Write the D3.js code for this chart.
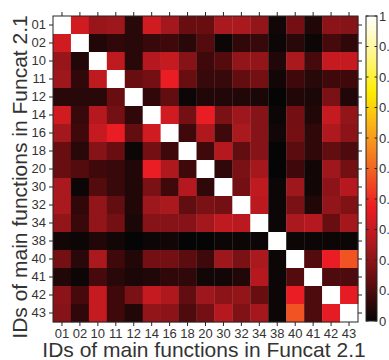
<!DOCTYPE html>
<html>
<head>
<meta charset="utf-8">
<script src="https://cdn.jsdelivr.net/npm/d3@7"></script>
<style>
  body { margin: 0; background: #fff; }
  svg { display: block; font-family: "Liberation Sans", Arial, Helvetica, sans-serif; }
</style>
</head>
<body>
<svg id="chart" width="389" height="360"></svg>
<script>
// function category IDs (rows and columns)
const ids = ["01", "02", "10", "11", "12", "14", "16", "18", "20", "30", "32", "34", "38", "40", "41", "42", "43"];

// similarity matrix (symmetric, 1 on the diagonal)
const matrix = [
  [1, .32, .22, .23, .05, .32, .24, .14, .14, .25, .25, .21, .02, .16, .04, .20, .19],
  [.32, 1, .04, .06, .05, .07, .08, .05, .11, .01, .06, .07, .01, .05, .01, .09, .06],
  [.22, .04, 1, .29, .05, .27, .30, .19, .08, .11, .21, .21, .04, .25, .09, .30, .30],
  [.23, .06, .29, 1, .14, .16, .37, .14, .07, .07, .13, .16, .02, .08, .05, .08, .08],
  [.05, .05, .05, .14, 1, .06, .13, .01, .04, .04, .04, .03, .00, .04, .03, .17, .04],
  [.32, .07, .27, .16, .06, 1, .32, .16, .37, .17, .23, .19, .01, .16, .04, .30, .21],
  [.24, .08, .30, .37, .13, .32, 1, .08, .26, .08, .25, .19, .02, .16, .06, .26, .20],
  [.14, .05, .19, .14, .01, .16, .08, 1, .08, .27, .13, .19, .00, .12, .06, .13, .10],
  [.14, .11, .08, .07, .04, .37, .26, .08, 1, .06, .17, .24, .00, .08, .02, .23, .16],
  [.25, .01, .11, .07, .04, .17, .08, .27, .06, 1, .16, .29, .01, .23, .02, .20, .27],
  [.25, .06, .21, .13, .04, .23, .25, .13, .17, .16, 1, .28, .01, .17, .04, .21, .18],
  [.21, .07, .21, .16, .03, .19, .19, .19, .24, .29, .28, 1, .01, .25, .27, .14, .24],
  [.02, .01, .04, .02, .00, .01, .02, .00, .00, .01, .01, .01, 1, .01, .01, .01, .01],
  [.16, .05, .25, .08, .04, .16, .16, .12, .08, .23, .17, .25, .01, 1, .11, .37, .47],
  [.04, .01, .09, .05, .03, .04, .06, .06, .02, .02, .04, .27, .01, .11, 1, .10, .10],
  [.20, .09, .30, .08, .17, .30, .26, .13, .23, .20, .21, .14, .01, .37, .10, 1, .36],
  [.19, .06, .30, .08, .04, .21, .20, .10, .16, .27, .18, .24, .01, .47, .10, .36, 1]
];

const cbTicks = [0, 0.1, 0.2, 0.3, 0.4, 0.5, 0.6, 0.7, 0.8, 0.9, 1];

// "hot"-like colormap
const hotStops = [0, 0.125, 0.25, 0.375, 0.5, 0.625, 0.75, 0.875, 1];
const hotColors = ["#050505", "#5f0c0f", "#aa191e", "#ed1c24", "#f26522", "#f9a91a", "#ffed00", "#fff68c", "#ffffff"];

const svg = d3.select("#chart");
const mLeft = 53, mRight = 358, mTop = 16, mBottom = 322;
const axisColor = "#262626";
const textColor = "#333";

const x = d3.scaleBand().domain(ids).range([mLeft, mRight]);
const y = d3.scaleBand().domain(ids).range([mTop, mBottom]);
const color = d3.scaleLinear().domain(hotStops).range(hotColors).clamp(true);

const cells = [];
matrix.forEach((row, i) => row.forEach((v, j) => cells.push({ r: ids[i], c: ids[j], v: v })));

svg.append("g").selectAll("rect").data(cells)
  .enter().append("rect")
    .attr("x", d => x(d.c))
    .attr("y", d => y(d.r))
    .attr("width", x.bandwidth() + 0.3)
    .attr("height", y.bandwidth() + 0.3)
    .attr("fill", d => color(d.v));

// axes with outward ticks on all four sides
function styleAxis(g) {
  g.select(".domain").remove();
  g.selectAll(".tick line").attr("stroke", axisColor);
  g.selectAll(".tick text")
    .attr("fill", textColor)
    .style("font-size", "13px");
}

svg.append("g").attr("transform", `translate(0,${mBottom})`)
  .call(d3.axisBottom(x).tickSize(4).tickPadding(3))
  .call(styleAxis);
svg.append("g").attr("transform", `translate(${mLeft},0)`)
  .call(d3.axisLeft(y).tickSize(4).tickPadding(3))
  .call(styleAxis);
svg.append("g").attr("transform", `translate(0,${mTop})`)
  .call(d3.axisTop(x).tickSize(4).tickFormat(""))
  .call(styleAxis);
svg.append("g").attr("transform", `translate(${mRight},0)`)
  .call(d3.axisRight(y).tickSize(4).tickFormat(""))
  .call(styleAxis);

svg.append("rect")
  .attr("x", mLeft).attr("y", mTop)
  .attr("width", mRight - mLeft).attr("height", mBottom - mTop)
  .attr("fill", "none").attr("stroke", axisColor).attr("stroke-width", 1);

// axis titles
svg.append("text")
  .attr("x", 204).attr("y", 357)
  .attr("text-anchor", "middle")
  .attr("fill", textColor)
  .style("font-size", "21px")
  .text("IDs of main functions in Funcat 2.1");

svg.append("text")
  .attr("transform", "translate(27,177) rotate(-90)")
  .attr("text-anchor", "middle")
  .attr("fill", textColor)
  .style("font-size", "21px")
  .text("IDs of main functions in Funcat 2.1");

// colorbar
const cbLeft = 366, cbRight = 377, cbTop = 16, cbBottom = 321;
const cbScale = d3.scaleLinear().domain([0, 1]).range([cbBottom, cbTop]);

const grad = svg.append("defs").append("linearGradient")
  .attr("id", "hotgrad")
  .attr("x1", 0).attr("y1", 1).attr("x2", 0).attr("y2", 0);
grad.selectAll("stop").data(hotStops)
  .enter().append("stop")
    .attr("offset", d => d)
    .attr("stop-color", d => color(d));

svg.append("rect")
  .attr("x", cbLeft).attr("y", cbTop)
  .attr("width", cbRight - cbLeft).attr("height", cbBottom - cbTop)
  .attr("fill", "url(#hotgrad)")
  .attr("stroke", axisColor).attr("stroke-width", 1);

const cb = svg.append("g");
cb.selectAll(".tl").data(cbTicks).enter().append("line")
  .attr("x1", cbLeft).attr("x2", cbLeft + 2.5)
  .attr("y1", d => cbScale(d)).attr("y2", d => cbScale(d))
  .attr("stroke", axisColor);
cb.selectAll(".tr").data(cbTicks).enter().append("line")
  .attr("x1", cbRight - 2.5).attr("x2", cbRight)
  .attr("y1", d => cbScale(d)).attr("y2", d => cbScale(d))
  .attr("stroke", axisColor);
cb.selectAll("text").data(cbTicks).enter().append("text")
  .attr("x", cbRight + 2)
  .attr("y", d => cbScale(d))
  .attr("dy", "0.36em")
  .attr("fill", textColor)
  .style("font-size", "13px")
  .text(d => d3.format("")(d));
</script>
</body>
</html>
